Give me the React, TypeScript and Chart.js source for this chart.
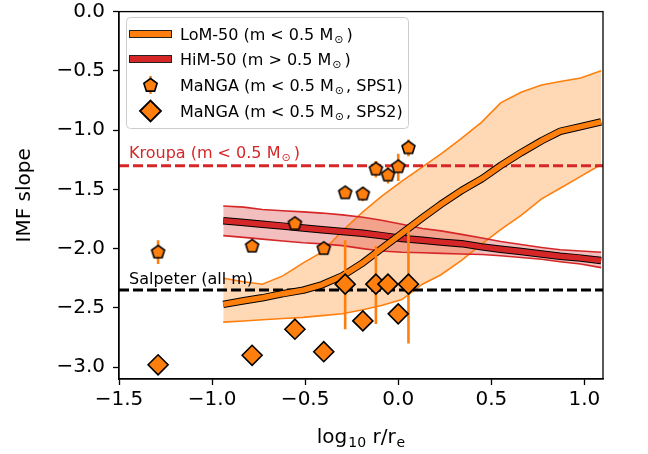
import React, { useEffect, useRef } from "react";
import { Chart, registerables } from "chart.js";

Chart.register(...registerables);

// ---------- data ----------
const radius = [-0.94, -0.83, -0.73, -0.62, -0.51, -0.41, -0.3, -0.19, -0.09, 0.02, 0.13, 0.23, 0.34, 0.45, 0.55, 0.66, 0.77, 0.87, 0.98, 1.09];
const lomMedian = [-2.47, -2.44, -2.415, -2.38, -2.35, -2.305, -2.23, -2.12, -2.0, -1.87, -1.74, -1.625, -1.51, -1.41, -1.3, -1.19, -1.09, -1.01, -0.97, -0.93];
const lomHigh = [-2.25, -2.28, -2.3, -2.23, -2.12, -2.03, -1.85, -1.69, -1.56, -1.43, -1.31, -1.2, -1.07, -0.93, -0.77, -0.68, -0.62, -0.59, -0.56, -0.5];
const lomLow = [-2.62, -2.61, -2.6, -2.59, -2.58, -2.565, -2.55, -2.515, -2.48, -2.43, -2.3, -2.22, -2.1, -1.96, -1.84, -1.72, -1.58, -1.49, -1.39, -1.29];
const himMedian = [-1.765, -1.78, -1.795, -1.81, -1.825, -1.84, -1.855, -1.87, -1.89, -1.915, -1.93, -1.945, -1.958, -1.985, -2.005, -2.025, -2.045, -2.065, -2.08, -2.1];
const himHigh = [-1.64, -1.65, -1.67, -1.68, -1.69, -1.7, -1.715, -1.735, -1.76, -1.795, -1.83, -1.85, -1.88, -1.91, -1.94, -1.965, -1.99, -2.01, -2.02, -2.03];
const himLow = [-1.89, -1.905, -1.92, -1.935, -1.95, -1.96, -1.975, -2.0, -2.02, -2.03, -2.035, -2.04, -2.045, -2.05, -2.06, -2.075, -2.09, -2.11, -2.13, -2.16];

const mangaRadius = [-1.29, -0.785, -0.555, -0.4, -0.285, -0.19, -0.12, -0.055, 0.0, 0.055];
const sps1 = [-2.03, -1.98, -1.79, -2.0, -1.53, -1.54, -1.33, -1.38, -1.31, -1.15];
const sps1Low = [-2.13, -2.0, -1.81, -2.02, -1.55, -1.6, -1.4, -1.45, -1.43, -1.22];
const sps1High = [-1.93, -1.96, -1.77, -1.98, -1.51, -1.48, -1.26, -1.31, -1.2, -1.08];
const sps2 = [-2.98, -2.9, -2.68, -2.87, -2.3, -2.61, -2.3, -2.3, -2.55, -2.3];
const sps2Low = [-2.98, -2.9, -2.68, -2.87, -2.68, -2.61, -2.635, -2.3, -2.55, -2.8];
const sps2High = [-2.98, -2.9, -2.68, -2.87, -1.93, -2.61, -1.975, -2.3, -2.55, -1.82];

const kroupaSlope = -1.3;
const salpeterSlope = -2.35;
const xRange = [-1.5, 1.1];
const yRange = [-3.1, 0.0];
const xTicks = [-1.5, -1.0, -0.5, 0.0, 0.5, 1.0];
const yTicks = [0.0, -0.5, -1.0, -1.5, -2.0, -2.5, -3.0];

// ---------- style ----------
const FONT = "'DejaVu Sans', sans-serif";
const ORANGE = "#ff7f0e";
const RED = "#d62728";

function makePentagon(r: number, lw: number): HTMLCanvasElement {
  const s = Math.ceil(2 * (r + lw) + 2);
  const c = document.createElement("canvas");
  c.width = s;
  c.height = s;
  const ctx = c.getContext("2d")!;
  ctx.translate(s / 2, s / 2);
  pentPath(ctx, 0, 0, r);
  ctx.fillStyle = ORANGE;
  ctx.fill();
  ctx.lineWidth = lw;
  ctx.strokeStyle = "#000";
  ctx.lineJoin = "miter";
  ctx.stroke();
  return c;
}

function pentPath(ctx: CanvasRenderingContext2D, cx: number, cy: number, r: number) {
  ctx.beginPath();
  for (let i = 0; i < 5; i++) {
    const a = -Math.PI / 2 + (i * 2 * Math.PI) / 5;
    const px = cx + r * Math.cos(a);
    const py = cy + r * Math.sin(a);
    if (i === 0) ctx.moveTo(px, py);
    else ctx.lineTo(px, py);
  }
  ctx.closePath();
}

type Part = { t: string; sub?: boolean; gap?: number };

function drawRich(ctx: CanvasRenderingContext2D, parts: Part[], x: number, y: number, size: number, color: string, align: "left" | "center" = "left") {
  const subSize = size * 0.7;
  ctx.save();
  ctx.fillStyle = color;
  ctx.textBaseline = "alphabetic";
  ctx.textAlign = "left";
  let total = 0;
  for (const p of parts) {
    ctx.font = `${p.sub ? subSize : size}px ${FONT}`;
    total += ctx.measureText(p.t).width + (p.gap || 0);
  }
  let cx = align === "center" ? x - total / 2 : x;
  for (const p of parts) {
    ctx.font = `${p.sub ? subSize : size}px ${FONT}`;
    cx += p.gap || 0;
    ctx.fillText(p.t, cx, p.sub ? y + size * 0.2 : y);
    cx += ctx.measureText(p.t).width;
  }
  ctx.restore();
}

function pts(xs: number[], ys: number[]) {
  return xs.map((x, i) => ({ x, y: ys[i] }));
}

function errData(xs: number[], lo: number[], hi: number[]) {
  const out: { x: number; y: number | null }[] = [];
  xs.forEach((x, i) => {
    out.push({ x, y: lo[i] }, { x, y: hi[i] }, { x, y: null });
  });
  return out;
}

const fmt = (v: number) => (v < 0 ? "\u2212" : "") + Math.abs(v).toFixed(1);

const decorPlugin = {
  id: "decor",
  afterDatasetsDraw(chart: any) {
    const ctx = chart.ctx as CanvasRenderingContext2D;
    const { left } = chart.chartArea;
    const ys = chart.scales.y;
    drawRich(ctx, [{ t: "Kroupa (m < 0.5 M" }, { t: "\u2299", sub: true, gap: 1 }, { t: ")", gap: 3 }], left + 10, ys.getPixelForValue(kroupaSlope) - 8, 16, RED);
    drawRich(ctx, [{ t: "Salpeter (all m)" }], left + 10, ys.getPixelForValue(salpeterSlope) - 6, 16, "#000");
  },
  afterDraw(chart: any) {
    const ctx = chart.ctx as CanvasRenderingContext2D;
    const { left, right, top, bottom } = chart.chartArea;
    ctx.save();
    ctx.strokeStyle = "#000";
    ctx.lineWidth = 1.3;
    ctx.strokeRect(left, top, right - left, bottom - top);
    ctx.restore();

    // x title
    drawRich(ctx, [{ t: "log" }, { t: "10", sub: true, gap: 1 }, { t: " r/r", gap: 0 }, { t: "e", sub: true, gap: 1 }], (left + right) / 2, 443, 20, "#000", "center");

    // legend
    const bx = 126, by = 17, bw = 282, bh = 111;
    ctx.save();
    ctx.beginPath();
    (ctx as any).roundRect(bx + 0.5, by + 0.5, bw, bh, 4);
    ctx.fillStyle = "rgba(255,255,255,0.8)";
    ctx.fill();
    ctx.strokeStyle = "#cccccc";
    ctx.lineWidth = 1;
    ctx.stroke();

    const rows = [34, 59, 85, 111];
    // patches
    ctx.fillStyle = ORANGE;
    ctx.fillRect(129.5, rows[0] - 3.5, 42, 7);
    ctx.strokeStyle = "#222";
    ctx.lineWidth = 1;
    ctx.strokeRect(129.5, rows[0] - 3.5, 42, 7);
    ctx.fillStyle = RED;
    ctx.fillRect(129.5, rows[1] - 3.5, 42, 7);
    ctx.strokeRect(129.5, rows[1] - 3.5, 42, 7);
    // pentagon with errorbar
    ctx.strokeStyle = ORANGE;
    ctx.lineWidth = 2.5;
    ctx.beginPath();
    ctx.moveTo(150.5, rows[2] - 9);
    ctx.lineTo(150.5, rows[2] + 9);
    ctx.stroke();
    pentPath(ctx, 150.5, rows[2] + 0.5, 7);
    ctx.fillStyle = ORANGE;
    ctx.fill();
    ctx.strokeStyle = "#000";
    ctx.lineWidth = 1.6;
    ctx.stroke();
    // diamond
    ctx.beginPath();
    const dx = 150.5, dy = rows[3], dr = 10.5;
    ctx.moveTo(dx - dr, dy);
    ctx.lineTo(dx, dy - dr);
    ctx.lineTo(dx + dr, dy);
    ctx.lineTo(dx, dy + dr);
    ctx.closePath();
    ctx.fillStyle = ORANGE;
    ctx.fill();
    ctx.strokeStyle = "#000";
    ctx.lineWidth = 1.8;
    ctx.stroke();
    ctx.restore();

    const tx = 180;
    const sz = 16;
    const off = 6;
    drawRich(ctx, [{ t: "LoM-50 (m < 0.5 M" }, { t: "\u2299", sub: true, gap: 1 }, { t: ")", gap: 3 }], tx, rows[0] + off, sz, "#000");
    drawRich(ctx, [{ t: "HiM-50 (m > 0.5 M" }, { t: "\u2299", sub: true, gap: 1 }, { t: ")", gap: 3 }], tx, rows[1] + off, sz, "#000");
    drawRich(ctx, [{ t: "MaNGA (m < 0.5 M" }, { t: "\u2299", sub: true, gap: 1 }, { t: ", SPS1)", gap: 2 }], tx, rows[2] + off, sz, "#000");
    drawRich(ctx, [{ t: "MaNGA (m < 0.5 M" }, { t: "\u2299", sub: true, gap: 1 }, { t: ", SPS2)", gap: 2 }], tx, rows[3] + off, sz, "#000");
  },
};

export default function App() {
  const ref = useRef<HTMLCanvasElement>(null);

  useEffect(() => {
    const canvas = ref.current!;
    const pentagon = makePentagon(6.8, 1.6);
    const lineBase = { showLine: true, pointRadius: 0, pointHoverRadius: 0, tension: 0 };
    const fitY = (scale: any) => {
      scale.width = 119;
      scale.paddingTop = 0;
      scale.paddingBottom = 0;
    };
    const fitX = (scale: any) => {
      scale.height = 75;
      scale.paddingLeft = 0;
      scale.paddingRight = 0;
    };
    const chart = new Chart(canvas, {
      type: "scatter",
      data: {
        datasets: [
          { ...lineBase, data: pts(radius, lomHigh), borderColor: ORANGE, borderWidth: 1.6, fill: 1, backgroundColor: "rgba(255,127,14,0.3)", order: 20 } as any,
          { ...lineBase, data: pts(radius, lomLow), borderColor: ORANGE, borderWidth: 1.6, fill: false, order: 20 },
          { ...lineBase, data: pts(radius, himHigh), borderColor: RED, borderWidth: 1.6, fill: 3, backgroundColor: "rgba(214,39,40,0.3)", order: 19 },
          { ...lineBase, data: pts(radius, himLow), borderColor: RED, borderWidth: 1.6, fill: false, order: 19 },
          { ...lineBase, data: pts(xRange, [kroupaSlope, kroupaSlope]), borderColor: RED, borderWidth: 3, borderDash: [10, 4], borderCapStyle: "butt", order: 15 },
          { ...lineBase, data: pts(xRange, [salpeterSlope, salpeterSlope]), borderColor: "#000", borderWidth: 3, borderDash: [10, 4], borderCapStyle: "butt", order: 15 },
          { ...lineBase, data: pts(radius, himMedian), borderColor: "#000", borderWidth: 7.5, borderCapStyle: "butt", borderJoinStyle: "round", order: 12 },
          { ...lineBase, data: pts(radius, himMedian), borderColor: RED, borderWidth: 5.5, borderCapStyle: "butt", borderJoinStyle: "round", order: 11 },
          { ...lineBase, data: pts(radius, lomMedian), borderColor: "#000", borderWidth: 7.5, borderCapStyle: "butt", borderJoinStyle: "round", order: 10 },
          { ...lineBase, data: pts(radius, lomMedian), borderColor: ORANGE, borderWidth: 5.5, borderCapStyle: "butt", borderJoinStyle: "round", order: 9 },
          { ...lineBase, data: errData(mangaRadius, sps2Low, sps2High), borderColor: ORANGE, borderWidth: 2.6, spanGaps: false, order: 6 },
          { ...lineBase, data: errData(mangaRadius, sps1Low, sps1High), borderColor: ORANGE, borderWidth: 2.6, spanGaps: false, order: 5 },
          { data: pts(mangaRadius, sps2), pointStyle: "rectRot", pointRadius: 10, borderWidth: 1.6, borderColor: "#000", backgroundColor: ORANGE, showLine: false, order: 2 },
          { data: pts(mangaRadius, sps1), pointStyle: pentagon, pointRadius: 8, showLine: false, order: 1 },
        ],
      },
      options: {
        animation: false,
        responsive: false,
        devicePixelRatio: 1,
        events: [],
        layout: { padding: { left: 0, top: 10, right: 45, bottom: 0 } },
        plugins: {
          legend: { display: false },
          tooltip: { enabled: false },
          filler: { propagate: false, drawTime: "beforeDatasetsDraw" },
        } as any,
        scales: {
          x: {
            type: "linear",
            min: xRange[0],
            max: xRange[1],
            afterFit: fitX,
            afterBuildTicks: (s: any) => {
              s.ticks = xTicks.map((value) => ({ value }));
            },
            grid: { display: true, drawOnChartArea: false, drawTicks: true, tickLength: 6, tickColor: "#000", tickWidth: 1.3 },
            border: { display: true, color: "#000", width: 1.3 },
            ticks: { color: "#000", font: { family: FONT, size: 20 }, padding: 3, maxRotation: 0, callback: (v: any) => fmt(Number(v)) },
          },
          y: {
            type: "linear",
            min: yRange[0],
            max: yRange[1],
            afterFit: fitY,
            afterBuildTicks: (s: any) => {
              s.ticks = yTicks.map((value) => ({ value }));
            },
            grid: { display: true, drawOnChartArea: false, drawTicks: true, tickLength: 6, tickColor: "#000", tickWidth: 1.3 },
            border: { display: true, color: "#000", width: 1.3 },
            ticks: { color: "#000", font: { family: FONT, size: 20 }, padding: 8, callback: (v: any) => fmt(Number(v)) },
            title: { display: true, text: "IMF slope", color: "#000", font: { family: FONT, size: 20 }, padding: { top: 13, bottom: 0 } },
          },
        },
      },
      plugins: [decorPlugin],
    });
    return () => chart.destroy();
  }, []);

  return (
    <div style={{ position: "fixed", left: 0, top: 0, width: 648, height: 454, background: "#fff" }}>
      <canvas ref={ref} width={648} height={454} style={{ width: 648, height: 454, display: "block" }} />
    </div>
  );
}
